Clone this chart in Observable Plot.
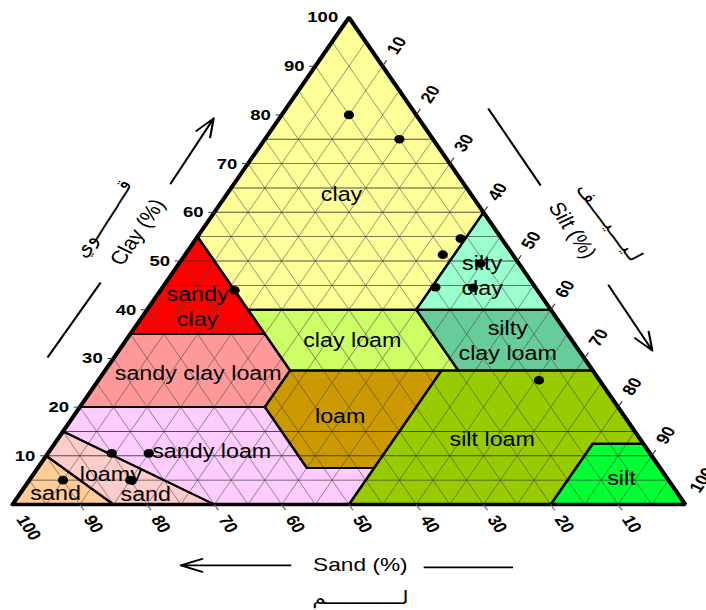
<!DOCTYPE html>
<html><head><meta charset="utf-8">
<script src="https://cdn.jsdelivr.net/npm/d3@7"></script>
<script src="https://cdn.jsdelivr.net/npm/@observablehq/plot@0.6"></script>
<style>body{margin:0;background:#fff;} svg{display:block}</style>
</head><body><div id="chart"></div>
<script>
// ---- data (ternary: [sand, silt, clay] in %) ----
const regionNames = ["sand","loamy sand","sandy loam","sandy clay loam","sandy clay","clay","silty clay","silty clay loam","clay loam","loam","silt loam","silt"];
const regionColors = ["#FFCC99","#FFCCCC","#FFCCFF","#FF9999","#FF0000","#FFFF99","#99FFCC","#66CC99","#CCFF66","#CC9900","#99CC00","#00FF33"];
const regionVertices = [
  [[90,0,10],[100,0,0],[85,15,0]],
  [[85,0,15],[90,0,10],[85,15,0],[70,30,0]],
  [[80,0,20],[85,0,15],[70,30,0],[50,50,0],[42.5,50,7.5],[52.5,40,7.5],[52.5,27.5,20]],
  [[65,0,35],[80,0,20],[52.5,27.5,20],[45,27.5,27.5],[45,20,35]],
  [[45,0,55],[65,0,35],[45,20,35],[45,15,40]],
  [[0,0,100],[0,40,60],[20,40,40],[45,15,40],[45,0,55]],
  [[0,40,60],[0,60,40],[20,40,40]],
  [[20,40,40],[0,60,40],[0,72.5,27.5],[20,52.5,27.5]],
  [[45,15,40],[20,40,40],[20,52.5,27.5],[45,27.5,27.5]],
  [[45,27.5,27.5],[22.5,50,27.5],[42.5,50,7.5],[52.5,40,7.5],[52.5,27.5,20]],
  [[22.5,50,27.5],[0,72.5,27.5],[0,87.5,12.5],[7.5,80,12.5],[20,80,0],[50,50,0]],
  [[7.5,80,12.5],[0,87.5,12.5],[0,100,0],[20,80,0]]
];
const labelTexts = ["clay","sandy\nclay","silty\nclay","clay loam","silty\nclay loam","sandy clay loam","loam","silt loam","silt","sandy loam","loamy","sand","sand"];
const labelX = [48.9,27.5,69.8,50.5,73.6,27.6,48.7,71.3,90.5,29.6,14.6,6.4,19.8];
const labelY = [63.9,40.8,47.3,33.9,33.8,27.3,18.3,13.6,5.7,11.1,6.4,2.5,2.3];

const sampleSand = [10,5,6.1,10.4,5.7,14.85,9.3,45,9,80,74.5,90,80];
const sampleSilt = [10,20,39.3,38.3,44.8,40.55,46.2,11,65.5,9.5,15,5,15];
const sampleClay = [80,75,54.6,51.3,49.5,44.6,44.5,44,25.5,10.5,10.5,5,5];

const tickValues = [10,20,30,40,50,60,70,80,90,100];
const hGridClay = [5,10,15,45,50,55,60,65,70,75];
const diagGrid = [5,10,15,20,25,30,35,40,45,50,55,60,65,70,75,80,85,90,95];

// annotation decorations in chart (x,y) coordinates
const titleTexts = ["Clay (%)","Silt (%)","Sand (%)"];
const titleX = [18.6,83.2,51.7];
const titleY = [55.9,56.3,-12.5];
const titleRot = [-60,60,0];
const arrowSegs = [[23.5,65.9,29.9,79.3],[88.6,45,95.1,31.6],[41.3,-12.5,25,-12.5]];
const plainSegs = [[5.2,30.2,13.1,45.6],[70.7,81.3,78.5,65.5],[61.1,-12.9,74.4,-12.9]];
const glyphTexts = ["قــــــــــوي","لـيــــيـــــف","لــــــــــــم"];
const glyphX = [13.4,88.7,51.7];
const glyphY = [58.7,57.9,-19.3];
const glyphRot = [-62,58,0];

// ---- geometry helpers ----
const tx = ([sa, si, cl]) => si + cl / 2;
const ty = ([sa, si, cl]) => cl;

const W = 591, H = 610, WOUT = 706;

const polyMarks = regionVertices.map((verts, i) => {
  const rows = verts.concat([verts[0]]).map(v => ({x: tx(v), y: ty(v)}));
  return Plot.line(rows, {x: "x", y: "y", fill: regionColors[i], stroke: null});
});
const polyStrokes = regionVertices.map((verts) => {
  const rows = verts.concat([verts[0]]).map(v => ({x: tx(v), y: ty(v)}));
  return Plot.line(rows, {x: "x", y: "y", stroke: "black", strokeWidth: 2, strokeLinejoin: "miter"});
});

const hGrid = hGridClay.map(c => ({x1: c/2, y1: c, x2: 100 - c/2, y2: c}));
const sandGrid = diagGrid.map(a => ({x1: 100 - a, y1: 0, x2: (100 - a)/2, y2: 100 - a}));
const siltGrid = diagGrid.map(b => ({x1: b, y1: 0, x2: 50 + b/2, y2: 100 - b}));

const leftTicks = tickValues.filter(v => v < 100).map(c => ({x1: c/2, y1: c, x2: c/2 - 0.9, y2: c}));
const bottomTicks = tickValues.filter(v => v < 100).map(s => ({x1: 100 - s, y1: 0, x2: 100 - s + 0.6, y2: -1.2}));
const rightTicks = tickValues.filter(v => v < 100).map(s => ({x1: 50 + s/2, y1: 100 - s, x2: 50 + s/2 + 0.6, y2: 100 - s + 1.2}));

const triangle = [{x:0,y:0},{x:100,y:0},{x:50,y:100},{x:0,y:0}];

const samples = sampleSand.map((s, i) => ({x: tx([s, sampleSilt[i], sampleClay[i]]), y: sampleClay[i]}));
const labels = labelTexts.map((t, i) => ({t, x: labelX[i], y: labelY[i]}));

const svg = Plot.plot({
  width: W, height: H,
  x: {domain: [0, 100], range: [10, 573.2], axis: null},
  y: {domain: [0, 100], range: [504, 17], axis: null},
  style: {fontFamily: "'Liberation Sans', Arial, sans-serif", background: "white", overflow: "hidden"},
  marks: [
    ...polyMarks,
    Plot.link(sandGrid, {x1: "x1", y1: "y1", x2: "x2", y2: "y2", stroke: "#444", strokeOpacity: 0.65, strokeWidth: 0.8}),
    Plot.link(siltGrid, {x1: "x1", y1: "y1", x2: "x2", y2: "y2", stroke: "#444", strokeOpacity: 0.65, strokeWidth: 0.8}),
    Plot.link(hGrid, {x1: "x1", y1: "y1", x2: "x2", y2: "y2", stroke: "#333", strokeOpacity: 0.85, strokeWidth: 0.9}),
    ...polyStrokes,
    Plot.line(triangle, {x: "x", y: "y", stroke: "black", strokeWidth: 3.5, strokeLinejoin: "miter"}),
    Plot.link(leftTicks, {x1: "x1", y1: "y1", x2: "x2", y2: "y2", stroke: "#333", strokeWidth: 1}),
    Plot.link(bottomTicks, {x1: "x1", y1: "y1", x2: "x2", y2: "y2", stroke: "#666", strokeWidth: 1}),
    Plot.link(rightTicks, {x1: "x1", y1: "y1", x2: "x2", y2: "y2", stroke: "#333", strokeWidth: 1}),
    Plot.text(tickValues, {x: c => c/2 - 1.6, y: c => c, text: d => String(d), textAnchor: "end", fontSize: 15.5, fontWeight: "bold", fill: "black"}),
    Plot.text(tickValues, {x: s => 100 - s + 1.25, y: -2.5, text: d => String(d), textAnchor: "start", rotate: 60, fontSize: 15.5, fontWeight: "bold", fill: "black"}),
    Plot.text(tickValues, {x: s => 50 + s/2 + 1.35, y: s => 100 - s + 2.7, text: d => String(d), textAnchor: "start", rotate: -60, fontSize: 15.5, fontWeight: "bold", fill: "black"}),
    Plot.dot(samples, {x: "x", y: "y", r: 4.3, fill: "black", stroke: null}),
    Plot.text(labels, {x: "x", y: "y", text: "t", fontSize: 19.5, lineHeight: 1.28, fill: "black"}),
    ...titleTexts.map((t, i) => Plot.text([t], {x: () => titleX[i], y: () => titleY[i], text: d => d, rotate: titleRot[i], fontSize: 19, fill: "black"})),
    Plot.arrow(arrowSegs, {x1: d => d[0], y1: d => d[1], x2: d => d[2], y2: d => d[3], stroke: "black", strokeWidth: 1.8, headLength: 16, headAngle: 40}),
    Plot.link(plainSegs, {x1: d => d[0], y1: d => d[1], x2: d => d[2], y2: d => d[3], stroke: "black", strokeWidth: 1.8}),
    ...glyphTexts.map((t, i) => Plot.text([t], {x: () => glyphX[i], y: () => glyphY[i], text: d => d, rotate: glyphRot[i], fontSize: 18, fontFamily: "'DejaVu Sans'", fill: "black"}))
  ]
});

// the reference is horizontally stretched: render at native width, stretch to output width
svg.setAttribute("width", WOUT);
svg.setAttribute("height", H);
svg.setAttribute("viewBox", `0 0 ${W} ${H}`);
svg.setAttribute("preserveAspectRatio", "none");
svg.style.width = WOUT + "px";
svg.style.height = H + "px";
svg.style.maxWidth = "none";
document.getElementById("chart").appendChild(svg);
</script>
</body></html>
